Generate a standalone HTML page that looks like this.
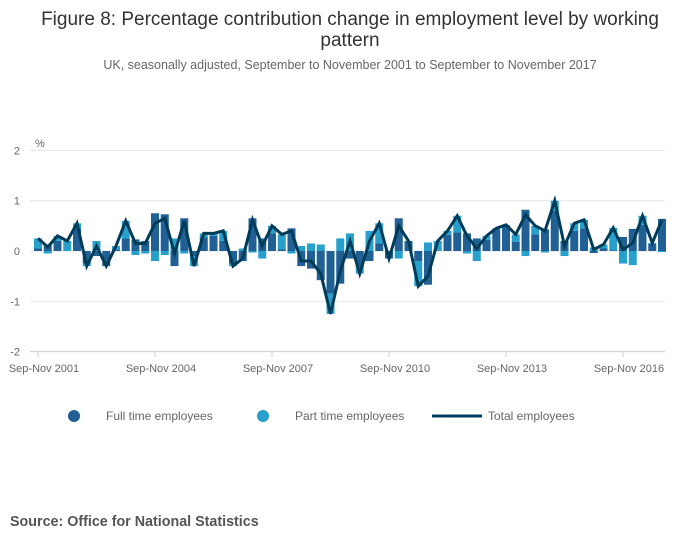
<!DOCTYPE html>
<html><head><meta charset="utf-8"><style>
body{margin:0;background:#fff;font-family:"Liberation Sans",sans-serif;}
svg text{font-family:"Liberation Sans",sans-serif;}
</style></head><body>
<svg id="c" width="700" height="549">
<text x="350" y="25" text-anchor="middle" font-size="19" fill="#333">Figure 8: Percentage contribution change in employment level by working</text>
<text x="350" y="46" text-anchor="middle" font-size="19" fill="#333">pattern</text>
<text x="350" y="69" text-anchor="middle" font-size="12.5" fill="#666">UK, seasonally adjusted, September to November 2001 to September to November 2017</text>
<text x="35" y="147" font-size="11" fill="#666">%</text>
<g id="grid"></g><g id="bars"></g><g id="line"></g><g id="xaxis"></g>
<g>
<circle cx="74" cy="416" r="6" fill="#206095"/>
<text x="106" y="420" font-size="12" fill="#666">Full time employees</text>
<circle cx="263" cy="416" r="6" fill="#27a0cc"/>
<text x="295" y="420" font-size="12" fill="#666">Part time employees</text>
<line x1="432" y1="416" x2="482" y2="416" stroke="#003c57" stroke-width="3"/>
<text x="488" y="420" font-size="12" fill="#666">Total employees</text>
</g>
<text x="10" y="526" font-size="14.3" font-weight="bold" fill="#555">Source: Office for National Statistics</text>
</svg>
<script>
const yTicks=[2,1,0,-1,-2];
const xLabels=["Sep-Nov 2001","Sep-Nov 2004","Sep-Nov 2007","Sep-Nov 2010","Sep-Nov 2013","Sep-Nov 2016"];
const xLabelIdx=[0,12,24,36,48,60];
const total=[0.25,0.08,0.3,0.2,0.55,-0.3,0.1,-0.3,0.1,0.6,0.15,0.15,0.55,0.65,-0.05,0.6,-0.3,0.35,0.35,0.4,-0.3,-0.15,0.62,0.1,0.5,0.33,0.4,-0.2,-0.2,-0.45,-1.25,-0.4,0.2,-0.45,0.2,0.55,-0.15,0.5,0.2,-0.7,-0.5,0.2,0.4,0.7,0.3,0.05,0.3,0.45,0.52,0.33,0.72,0.5,0.4,1.0,0.1,0.55,0.62,0.03,0.13,0.46,0.03,0.16,0.7,0.16,0.62];
const pt=[0.2,-0.05,0.1,0.2,0.1,-0.05,0.2,0,0.08,0.35,-0.08,-0.05,-0.2,-0.08,0.25,-0.05,-0.2,0.08,0.05,0.2,-0.05,0.05,-0.03,-0.15,0.15,0.3,-0.05,0.1,0.15,0.13,-0.4,0.25,0.35,-0.13,0.4,0.4,0,-0.15,0,-0.5,0.17,0.2,0.08,0.33,-0.05,-0.2,0.08,0.02,0.02,0.15,-0.1,0.17,-0.03,0.2,-0.1,0.15,0.17,0.07,0.08,0.45,-0.25,-0.28,0.18,0.02,-0.02];
const ft=total.map((t,i)=>+(t-pt[i]).toFixed(2));
const NS="http://www.w3.org/2000/svg";
const x=i=>38+i*9.75, y=v=>251-v*50.3;
function mk(tag,attrs,parent){const e=document.createElementNS(NS,tag);for(const k in attrs)e.setAttribute(k,attrs[k]);document.getElementById(parent).appendChild(e);return e;}
yTicks.forEach(v=>{
 const g=mk("line",{x1:30,x2:665,y1:y(v),y2:y(v),stroke:v===-2?"#ccc":"#e6e6e6"},"grid");
 
 
 const t=mk("text",{x:20,y:y(v)+4,"text-anchor":"end","font-size":11,fill:"#666"},"grid");t.textContent=v;
 
 
});
total.forEach((t,i)=>{
 let pos=0,neg=0;
 [[ft[i],"#206095","bar-full-time"],[pt[i],"#27a0cc","bar-part-time"]].forEach(([v,c,n])=>{
  let y0,y1;
  if(v>=0){y0=pos;y1=pos+v;pos=y1;}else{y0=neg;y1=neg+v;neg=y1;}
  const r=mk("rect",{x:x(i)-4,width:8,y:Math.min(y(y0),y(y1)),height:Math.abs(y(y0)-y(y1)),fill:c},"bars");
  
  
 });
});
const p=mk("polyline",{points:total.map((t,i)=>x(i)+","+y(t)).join(" "),fill:"none",stroke:"#003c57","stroke-width":3,"stroke-linejoin":"miter"},"line");


xLabelIdx.forEach((idx,k)=>{
 const tk=mk("line",{x1:x(idx),x2:x(idx),y1:352,y2:357,stroke:"#ccc"},"xaxis");
 
 
 const t=mk("text",{x:x(idx)+6,y:372,"text-anchor":"middle","font-size":11,fill:"#666"},"xaxis");t.textContent=xLabels[k];
 
 
});
</script>
</body></html>
